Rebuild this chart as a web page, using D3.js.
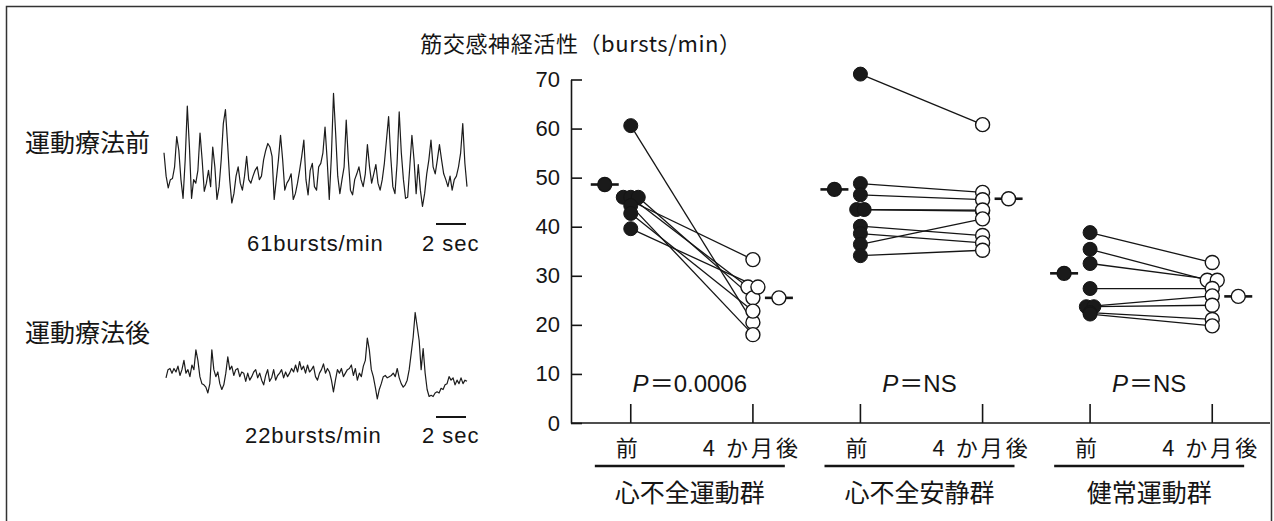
<!DOCTYPE html>
<html>
<head>
<meta charset="utf-8">
<script src="https://cdn.jsdelivr.net/npm/d3@7"></script>
<style>
  body { margin: 0; background: #fff; }
  svg { display: block; }
</style>
</head>
<body>
<svg id="fig" width="1274" height="521"></svg>
<script>
// ---- data ----
const groups = ["心不全運動群", "心不全安静群", "健常運動群"];
const periods = ["前", "4 か月後"];
const yTicks = [0, 10, 20, 30, 40, 50, 60, 70];

// muscle sympathetic nerve activity (bursts/min), paired per subject
const exercisePre  = [60.6, 46.0, 46.0, 46.0, 44.3, 42.7, 39.6];
const exercisePost = [20.5, 33.3, 27.7, 25.5, 18.0, 22.8, 27.7];
const restPre      = [71.1, 48.8, 46.5, 43.5, 43.5, 40.1, 38.6, 36.4, 34.1];
const restPost     = [60.8, 47.0, 45.5, 43.2, 43.4, 38.2, 36.7, 41.6, 35.2];
const healthyPre   = [38.8, 35.4, 32.5, 27.4, 23.7, 23.7, 22.5, 22.2];
const healthyPost  = [32.7, 29.1, 29.1, 27.4, 25.9, 24.0, 21.1, 19.8];

const meanPre  = [48.6, 47.6, 30.5];
const meanPost = [25.5, 45.7, 25.8];
const pValues  = ["0.0006", "NS", "NS"];

// raw MSNA neurogram samples (arbitrary units)
const traceLabels = ["運動療法前", "運動療法後"];
const burstRates = [61, 22];
const traceBefore = [49,29,19,26,27,37,63,51,26,10,43,89,54,10,26,23,34,66,43,16,23,34,20,54,37,9,20,43,74,86,57,26,6,14,29,37,23,17,29,46,26,23,29,34,37,26,29,43,51,57,54,46,9,26,43,64,43,17,23,26,31,9,14,23,34,46,60,26,13,34,40,20,17,37,40,49,71,43,9,46,100,66,29,14,26,37,77,43,17,13,26,31,37,26,20,31,56,37,23,31,39,23,17,26,40,60,80,46,20,14,40,84,49,26,10,11,37,64,43,14,39,17,3,14,31,43,60,37,31,43,56,43,31,26,20,29,17,26,29,37,49,74,40,20];
const traceAfter = [19,26,27,23,27,24,29,21,26,34,23,26,20,30,26,43,34,20,14,13,11,6,14,43,26,20,24,14,9,13,23,37,26,29,21,26,27,20,24,23,16,23,17,20,24,26,19,23,17,13,21,26,16,19,26,17,21,23,26,19,24,20,23,27,24,30,24,33,26,29,23,30,24,26,29,20,17,23,26,31,23,27,24,17,7,17,26,23,27,20,23,26,27,30,21,27,17,23,20,29,34,53,43,26,20,11,1,9,14,20,21,19,20,21,23,20,27,19,14,11,13,17,26,40,54,75,63,51,26,44,23,9,3,4,3,6,7,6,10,9,13,14,20,17,19,13,17,14,19,14,17,16];

const pairs = [
  { pre: exercisePre, post: exercisePost },
  { pre: restPre,     post: restPost },
  { pre: healthyPre,  post: healthyPost }
];

// ---- layout ----
const svg = d3.select("#fig");
const latin = "'Liberation Sans', 'Noto Sans CJK JP', sans-serif";
const cjk = "'Noto Sans CJK JP', 'Liberation Sans', sans-serif";
const ink = "#151515";

// frame (open at the bottom)
svg.append("path")
  .attr("d", "M6.5,521 V6.5 H1271.5 V521")
  .attr("fill", "none").attr("stroke", "#333").attr("stroke-width", 1.5);

// ---- scatter panel ----
const y = d3.scaleLinear().domain([0, 70]).range([423, 79.5]);
const xGroup = d3.scaleBand().domain(groups).range([577, 1266]).paddingInner(0).paddingOuter(0);
const xPeriod = d3.scalePoint().domain(periods).range([0, xGroup.bandwidth()]).padding(0.44);
const colX = (g, p) => xGroup(g) + xPeriod(p);

svg.append("text")
  .attr("x", 581).attr("y", 52)
  .attr("text-anchor", "middle")
  .attr("font-family", cjk).attr("font-size", 22).attr("fill", ink)
  .attr("letter-spacing", 0.6)
  .text("筋交感神経活性（bursts/min）");

const yAxis = d3.axisLeft(y).tickValues(yTicks).tickSizeInner(-11).tickSizeOuter(0).tickPadding(11);
const gy = svg.append("g").attr("transform", "translate(571,0)").call(yAxis);
gy.select(".domain").attr("stroke", ink).attr("stroke-width", 1.6);
gy.selectAll(".tick line").attr("stroke", ink).attr("stroke-width", 1.6);
gy.selectAll(".tick text").attr("font-family", latin).attr("font-size", 22).attr("fill", ink);

// x baseline and column ticks
svg.append("line")
  .attr("x1", 571).attr("x2", 1270).attr("y1", y(0)).attr("y2", y(0))
  .attr("stroke", ink).attr("stroke-width", 1.6);

groups.forEach(g => {
  periods.forEach(p => {
    svg.append("line")
      .attr("x1", colX(g, p)).attr("x2", colX(g, p))
      .attr("y1", y(0)).attr("y2", y(0) - 19)
      .attr("stroke", ink).attr("stroke-width", 1.6);
    svg.append("text")
      .attr("x", colX(g, p) - (p === "前" ? 4 : 1)).attr("y", 456)
      .attr("text-anchor", "middle")
      .attr("font-family", cjk).attr("font-size", 22).attr("fill", ink)
      .attr("letter-spacing", p === "前" ? 0 : 3)
      .text(p);
  });
  const cx = xGroup(g) + xGroup.bandwidth() / 2 - 2;
  svg.append("line")
    .attr("x1", cx - 95).attr("x2", cx + 95).attr("y1", 466).attr("y2", 466)
    .attr("stroke", ink).attr("stroke-width", 2.6);
  svg.append("text")
    .attr("x", cx).attr("y", 502)
    .attr("text-anchor", "middle")
    .attr("font-family", cjk).attr("font-size", 25).attr("fill", ink)
    .text(g);
});

// P values
groups.forEach((g, i) => {
  const cx = xGroup(g) + xGroup.bandwidth() / 2 - 2;
  const t = svg.append("text")
    .attr("x", cx).attr("y", 392)
    .attr("text-anchor", "middle")
    .attr("font-family", latin).attr("font-size", 24).attr("fill", ink);
  t.append("tspan").attr("font-style", "italic").text("P");
  t.append("tspan").attr("font-family", cjk).attr("dx", 1).text("＝");
  t.append("tspan").text(pValues[i]);
});

// horizontal offsets for identical values within one column
function dodge(values, step) {
  const off = values.map(() => 0);
  const byValue = d3.group(values.map((v, i) => ({ v, i })), d => d.v);
  for (const arr of byValue.values()) {
    const n = arr.length;
    arr.forEach((d, k) => { off[d.i] = (k - (n - 1) / 2) * step; });
  }
  return off;
}

const r = 7;
pairs.forEach((pr, gi) => {
  const g = groups[gi];
  const x0 = colX(g, periods[0]);
  const x1 = colX(g, periods[1]);
  const offPre = dodge(pr.pre, 7.5);
  const offPost = dodge(pr.post, 10);
  const rows = pr.pre.map((v, i) => ({
    xa: x0 + offPre[i], ya: y(v),
    xb: x1 + offPost[i], yb: y(pr.post[i])
  }));
  const layer = svg.append("g");
  layer.selectAll("line.pair").data(rows).join("line")
    .attr("x1", d => d.xa).attr("y1", d => d.ya)
    .attr("x2", d => d.xb).attr("y2", d => d.yb)
    .attr("stroke", ink).attr("stroke-width", 1.3);
  layer.selectAll("circle.pre").data(rows).join("circle")
    .attr("cx", d => d.xa).attr("cy", d => d.ya).attr("r", r)
    .attr("fill", "#1a1a1a").attr("stroke", ink).attr("stroke-width", 1);
  layer.selectAll("circle.post").data(rows).join("circle")
    .attr("cx", d => d.xb).attr("cy", d => d.yb).attr("r", r)
    .attr("fill", "#fff").attr("stroke", ink).attr("stroke-width", 1.4);

  // group means with a short horizontal bar
  const mx0 = x0 - 26, mx1 = x1 + 26;
  [[mx0, meanPre[gi], "#1a1a1a"], [mx1, meanPost[gi], "#fff"]].forEach(([mx, mv, fill]) => {
    layer.append("line")
      .attr("x1", mx - 14).attr("x2", mx + 14).attr("y1", y(mv)).attr("y2", y(mv))
      .attr("stroke", ink).attr("stroke-width", 2.6);
    layer.append("circle")
      .attr("cx", mx).attr("cy", y(mv)).attr("r", r)
      .attr("fill", fill).attr("stroke", ink).attr("stroke-width", 1.4);
  });
});

// ---- neurogram traces ----
const traces = [
  { data: traceBefore, x0: 164, x1: 467, base: 210, labelY: 152, barY: 224, textY: 251, rateX: 247 },
  { data: traceAfter,  x0: 166, x1: 467, base: 400, labelY: 342, barY: 417, textY: 443, rateX: 245 }
];
traces.forEach((t, i) => {
  const tx = d3.scaleLinear().domain([0, t.data.length - 1]).range([t.x0, t.x1]);
  const ty = d3.scaleLinear().domain([0, 100]).range([t.base, t.base - 116.7]);
  const line = d3.line().x((d, k) => tx(k)).y(d => ty(d));
  svg.append("path")
    .datum(t.data)
    .attr("d", line)
    .attr("fill", "none").attr("stroke", "#1c1c1c").attr("stroke-width", 1.2)
    .attr("stroke-linejoin", "round");

  svg.append("text")
    .attr("x", 25).attr("y", t.labelY)
    .attr("font-family", cjk).attr("font-size", 25).attr("fill", ink)
    .text(traceLabels[i]);

  svg.append("line")
    .attr("x1", 436).attr("x2", 466).attr("y1", t.barY).attr("y2", t.barY)
    .attr("stroke", ink).attr("stroke-width", 2);
  svg.append("text")
    .attr("x", 422).attr("y", t.textY)
    .attr("font-family", latin).attr("font-size", 22).attr("fill", ink)
    .attr("letter-spacing", 1)
    .text("2 sec");
  svg.append("text")
    .attr("x", t.rateX).attr("y", t.textY)
    .attr("font-family", latin).attr("font-size", 22).attr("fill", ink)
    .attr("letter-spacing", 0.9)
    .text(burstRates[i] + "bursts/min");
});
</script>
</body>
</html>
